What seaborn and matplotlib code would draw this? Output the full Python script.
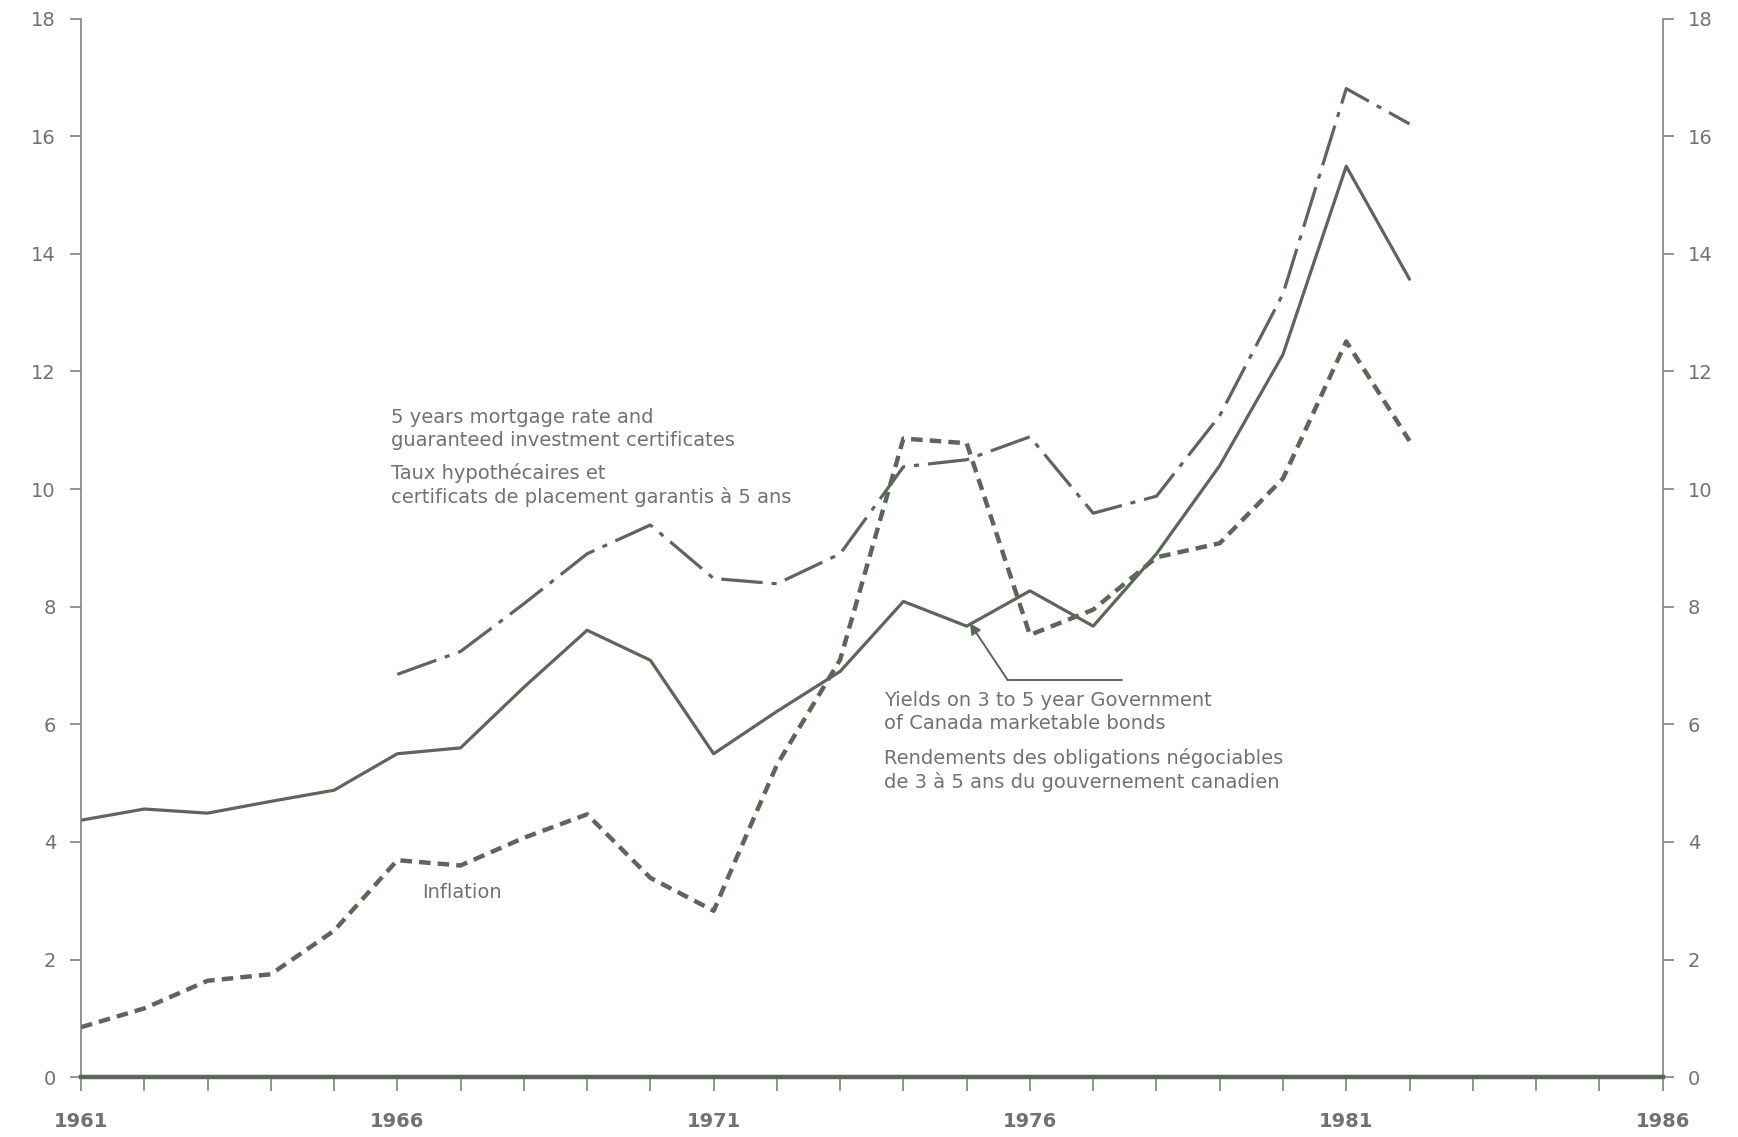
import matplotlib
matplotlib.use("Agg")
import matplotlib.pyplot as plt
import seaborn as sns
import pandas as pd
import numpy as np

sns.set_theme(style="white")
plt.rcParams['font.family'] = ['DejaVu Sans']

years_all = list(range(1961, 1983))
bonds = [4.37, 4.56, 4.49, 4.69, 4.88, 5.50, 5.60, 6.63, 7.60, 7.09, 5.50,
         6.22, 6.90, 8.09, 7.67, 8.27, 7.67, 8.90, 10.40, 12.29, 15.49, 13.57]
years_mort = list(range(1966, 1983))
mortgage = [6.85, 7.24, 8.05, 8.90, 9.39, 8.48, 8.39, 8.90, 10.38, 10.50,
            10.89, 9.59, 9.88, 11.25, 13.32, 16.81, 16.21]
inflation = [0.85, 1.17, 1.64, 1.75, 2.49, 3.69, 3.60, 4.07, 4.47, 3.39, 2.83,
             5.31, 7.10, 10.86, 10.78, 7.52, 7.95, 8.84, 9.08, 10.18, 12.51, 10.82]

ytick_vals = [0, 2, 4, 6, 8, 10, 12, 14, 16, 18]
xlabel_years = [1961, 1966, 1971, 1976, 1981, 1986]

line_col = "#5c665a"
axis_col = "#7d857b"
text_col = "#6e746c"

df_b = pd.DataFrame({"year": years_all, "value": bonds})
df_m = pd.DataFrame({"year": years_mort, "value": mortgage})
df_i = pd.DataFrame({"year": years_all, "value": inflation})

fig = plt.figure(figsize=(17.38, 11.37), dpi=100)
ax = fig.add_axes([0.0466, 0.0526, 0.91, 0.931])

sns.lineplot(data=df_b, x="year", y="value", ax=ax, color=line_col, lw=2.3)
sns.lineplot(data=df_m, x="year", y="value", ax=ax, color=line_col, lw=2.3)
ax.lines[-1].set_dashes([13, 2.8, 1.6, 2.8])
sns.lineplot(data=df_i, x="year", y="value", ax=ax, color=line_col, lw=3.2)
ax.lines[-1].set_dashes([2.6, 1.6])

ax.set_xlim(1961, 1986)
ax.set_ylim(0, 18)
ax.set_xlabel("")
ax.set_ylabel("")

ax.spines["top"].set_visible(False)
for s in ["left", "right"]:
    ax.spines[s].set_color(axis_col)
    ax.spines[s].set_linewidth(1.2)
ax.spines["bottom"].set_color(line_col)
ax.spines["bottom"].set_linewidth(3.2)

ax.set_yticks(ytick_vals)
ax.set_yticklabels([str(v) for v in ytick_vals])
ax.tick_params(axis="y", which="both", left=True, right=True, labelleft=True,
               labelright=True, direction="out", length=8, width=1.2,
               color=axis_col, labelcolor=text_col, labelsize=14, pad=10)
ax.set_xticks(list(range(1961, 1987)))
ax.set_xticklabels([str(y) if y in xlabel_years else "" for y in range(1961, 1987)],
                   fontweight="bold")
ax.tick_params(axis="x", direction="out", length=10, width=1.2, color=axis_col,
               labelcolor=text_col, labelsize=14, pad=15, bottom=True)
ax.grid(False)

tkw = dict(color=text_col, fontsize=14, va="top", ha="left", linespacing=1.25)
ax.text(1965.9, 11.38, "5 years mortgage rate and\nguaranteed investment certificates", **tkw)
ax.text(1965.9, 10.45, "Taux hypothécaires et\ncertificats de placement garantis à 5 ans", **tkw)
ax.text(1973.7, 6.56, "Yields on 3 to 5 year Government\nof Canada marketable bonds", **tkw)
ax.text(1973.7, 5.6, "Rendements des obligations négociables\nde 3 à 5 ans du gouvernement canadien", **tkw)
ax.text(1966.4, 3.30, "Inflation", **tkw)

# arrow pointer
ax.plot([1977.45, 1975.65], [6.75, 6.75], color=line_col, lw=1.4)
ax.annotate("", xy=(1975.05, 7.72), xytext=(1975.65, 6.75),
            arrowprops=dict(arrowstyle="-|>", color=line_col, lw=1.4,
                            mutation_scale=16, shrinkA=0, shrinkB=0))

fig.savefig("out.png", dpi=100)
